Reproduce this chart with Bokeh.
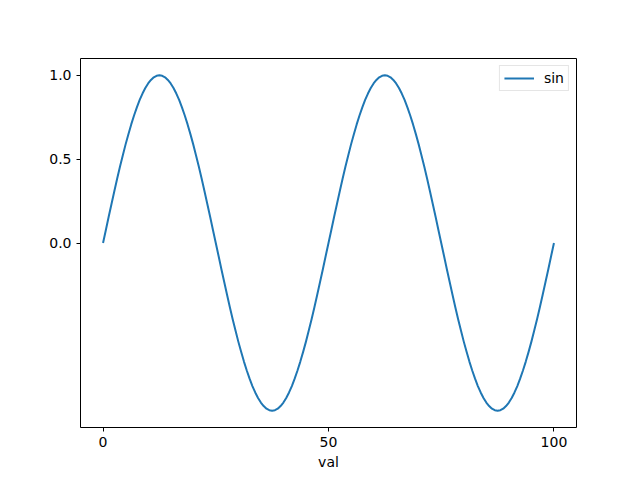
from bokeh.plotting import figure
from bokeh.models import FixedTicker, Legend, LegendItem
from bokeh.embed import file_html
from bokeh.resources import INLINE

val = [0, 0.625, 1.25, 1.875, 2.5, 3.125, 3.75, 4.375,
       5, 5.625, 6.25, 6.875, 7.5, 8.125, 8.75, 9.375,
       10, 10.625, 11.25, 11.875, 12.5, 13.125, 13.75, 14.375,
       15, 15.625, 16.25, 16.875, 17.5, 18.125, 18.75, 19.375,
       20, 20.625, 21.25, 21.875, 22.5, 23.125, 23.75, 24.375,
       25, 25.625, 26.25, 26.875, 27.5, 28.125, 28.75, 29.375,
       30, 30.625, 31.25, 31.875, 32.5, 33.125, 33.75, 34.375,
       35, 35.625, 36.25, 36.875, 37.5, 38.125, 38.75, 39.375,
       40, 40.625, 41.25, 41.875, 42.5, 43.125, 43.75, 44.375,
       45, 45.625, 46.25, 46.875, 47.5, 48.125, 48.75, 49.375,
       50, 50.625, 51.25, 51.875, 52.5, 53.125, 53.75, 54.375,
       55, 55.625, 56.25, 56.875, 57.5, 58.125, 58.75, 59.375,
       60, 60.625, 61.25, 61.875, 62.5, 63.125, 63.75, 64.375,
       65, 65.625, 66.25, 66.875, 67.5, 68.125, 68.75, 69.375,
       70, 70.625, 71.25, 71.875, 72.5, 73.125, 73.75, 74.375,
       75, 75.625, 76.25, 76.875, 77.5, 78.125, 78.75, 79.375,
       80, 80.625, 81.25, 81.875, 82.5, 83.125, 83.75, 84.375,
       85, 85.625, 86.25, 86.875, 87.5, 88.125, 88.75, 89.375,
       90, 90.625, 91.25, 91.875, 92.5, 93.125, 93.75, 94.375,
       95, 95.625, 96.25, 96.875, 97.5, 98.125, 98.75, 99.375,
       100]
sin_vals = [
    0.0, 0.078, 0.156, 0.233, 0.309, 0.383, 0.454, 0.522, 0.588, 0.649,
    0.707, 0.760, 0.809, 0.853, 0.891, 0.924, 0.951, 0.972, 0.988, 0.997,
    1.0, 0.997, 0.988, 0.972, 0.951, 0.924, 0.891, 0.853, 0.809, 0.760,
    0.707, 0.649, 0.588, 0.522, 0.454, 0.383, 0.309, 0.233, 0.156, 0.078,
    0.0, -0.078, -0.156, -0.233, -0.309, -0.383, -0.454, -0.522, -0.588, -0.649,
    -0.707, -0.760, -0.809, -0.853, -0.891, -0.924, -0.951, -0.972, -0.988, -0.997,
    -1.0, -0.997, -0.988, -0.972, -0.951, -0.924, -0.891, -0.853, -0.809, -0.760,
    -0.707, -0.649, -0.588, -0.522, -0.454, -0.383, -0.309, -0.233, -0.156, -0.078,
    0.0, 0.078, 0.156, 0.233, 0.309, 0.383, 0.454, 0.522, 0.588, 0.649,
    0.707, 0.760, 0.809, 0.853, 0.891, 0.924, 0.951, 0.972, 0.988, 0.997,
    1.0, 0.997, 0.988, 0.972, 0.951, 0.924, 0.891, 0.853, 0.809, 0.760,
    0.707, 0.649, 0.588, 0.522, 0.454, 0.383, 0.309, 0.233, 0.156, 0.078,
    0.0, -0.078, -0.156, -0.233, -0.309, -0.383, -0.454, -0.522, -0.588, -0.649,
    -0.707, -0.760, -0.809, -0.853, -0.891, -0.924, -0.951, -0.972, -0.988, -0.997,
    -1.0, -0.997, -0.988, -0.972, -0.951, -0.924, -0.891, -0.853, -0.809, -0.760,
    -0.707, -0.649, -0.588, -0.522, -0.454, -0.383, -0.309, -0.233, -0.156, -0.078,
    0.0]
x_ticks = [0, 50, 100]
y_ticks = [0.0, 0.5, 1.0]
y_tick_labels = {0.0: "0.0", 0.5: "0.5", 1.0: "1.0"}

p = figure(width=640, height=480, output_backend="svg", toolbar_location=None,
           x_range=(-5, 105), y_range=(-1.1, 1.1),
           min_border_left=80, min_border_right=64, min_border_top=58, min_border_bottom=53)
p.xgrid.visible = False
p.ygrid.visible = False
p.outline_line_color = "black"
p.outline_line_width = 1
p.background_fill_color = "white"
p.border_fill_color = "white"

r = p.line(val, sin_vals, line_color="#1f77b4", line_width=2, line_join="round")

for ax in (p.xaxis[0], p.yaxis[0]):
    ax.axis_line_color = None
    ax.major_tick_out = 4
    ax.major_tick_in = 0
    ax.minor_tick_line_color = None
    ax.major_tick_line_color = "black"
    ax.major_label_text_font = "DejaVu Sans"
    ax.major_label_text_font_size = "14px"
    ax.major_label_text_color = "black"
    ax.major_label_standoff = 5

p.xaxis.ticker = FixedTicker(ticks=x_ticks)
p.yaxis.ticker = FixedTicker(ticks=y_ticks)
p.yaxis.major_label_overrides = y_tick_labels
p.xaxis.axis_label = "val"
p.xaxis.axis_label_text_font = "DejaVu Sans"
p.xaxis.axis_label_text_font_size = "14px"
p.xaxis.axis_label_text_font_style = "normal"
p.xaxis.axis_label_text_color = "black"
p.xaxis.axis_label_standoff = 4

legend = Legend(items=[LegendItem(label="sin", renderers=[r])], location="top_right")
legend.margin = 7
legend.padding = 4
legend.spacing = 0
legend.glyph_width = 30
legend.glyph_height = 16
legend.label_text_font = "DejaVu Sans"
legend.label_text_font_size = "14px"
legend.label_text_color = "black"
legend.label_standoff = 10
legend.border_line_color = "#cccccc"
legend.border_line_width = 1
legend.background_fill_alpha = 0.8
p.add_layout(legend)

open("out.html", "w").write(file_html(p, INLINE))
